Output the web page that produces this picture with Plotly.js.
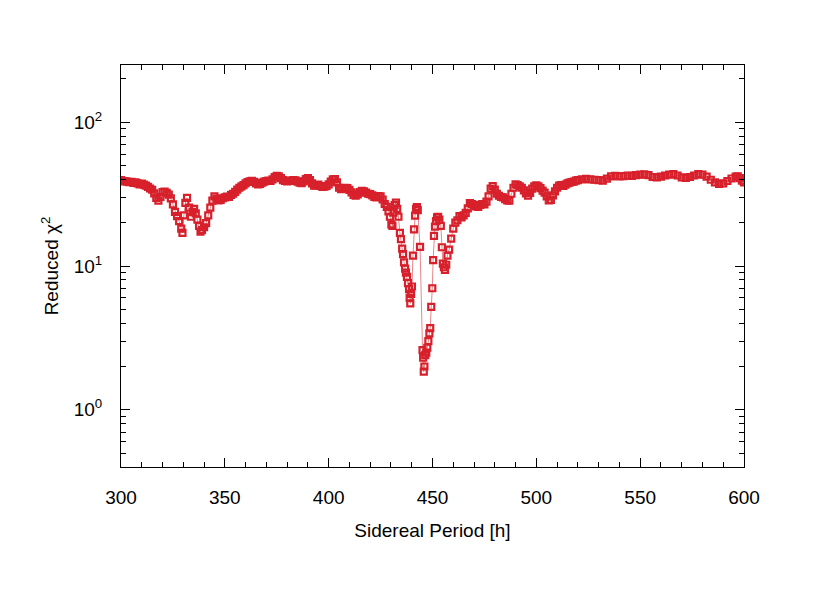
<!DOCTYPE html>
<html>
<head>
<meta charset="utf-8">
<script src="https://cdn.plot.ly/plotly-3.0.1.min.js"></script>
<style>
  body { margin: 0; background: #fff; }
  #myPlot { width: 830px; height: 589px; }
</style>
</head>
<body>
<div id="myPlot"></div>
<script>
/**
 * Data
 */
const period = [
  300, 301, 302, 303, 304, 305, 306, 307, 308, 309, 310, 311, 312, 313, 314, 315,
  316, 317, 318, 319, 320, 321, 322, 323, 324, 325, 326, 327, 328, 329, 329.6,
  330.3, 331, 331.8, 332.8, 333.7, 334.5, 335.2, 336, 336.8, 337.6, 338.3, 339,
  340, 341, 342, 343, 344, 345, 346, 347, 348, 349, 350, 351, 352, 353, 354, 355,
  356, 357, 358, 359, 360, 361, 362, 363, 364, 365, 366, 367, 368, 369, 370, 371,
  372, 373, 374, 375, 376, 377, 378, 379, 380, 381, 382, 383, 384, 385, 386, 387,
  388, 389, 390, 391, 392, 393, 394, 395, 396, 397, 398, 399, 400, 401, 402, 403,
  404, 405, 406, 407, 408, 409, 410, 411, 412, 413, 414, 415, 416, 417, 418, 419,
  420, 421, 422, 423, 424, 425, 426, 427, 428, 428.8, 429.5, 430.2, 430.7, 431.2,
  431.8, 432.4, 433, 433.6, 434.3, 434.8, 435.4, 435.8, 436.3, 436.8, 437.2, 437.7,
  438.2, 438.7, 439.0, 439.3, 439.7, 440.1, 440.6, 441.1, 441.6, 442.1, 442.5,
  442.9, 444.0, 445.2, 445.5, 445.8, 446.1, 446.5, 447.0, 447.5, 448.0, 448.5,
  448.9, 449.4, 449.9, 450.3, 450.7, 451.2, 451.7, 452.2, 452.7, 453.3, 454.0,
  454.5, 455.0, 455.5, 456.0, 456.6, 457.2, 458, 459, 460, 461, 462, 463, 464, 465,
  466, 467, 468, 469, 470, 471, 472, 473, 474, 475, 476, 477, 478, 479, 480, 481,
  482, 483, 484, 485, 486, 487, 488, 489, 490, 491, 492, 493, 494, 495, 496, 497,
  498, 499, 500, 501, 502, 503, 504, 505, 506, 507, 508, 509, 510, 511, 512, 513,
  514, 515, 516, 517, 518, 519, 520, 522, 524, 526, 528, 530, 532, 534, 536, 538,
  540, 542, 544, 546, 548, 550, 552, 554, 556, 558, 560, 562, 564, 566, 568, 570,
  572, 574, 576, 578, 580, 582, 584, 586, 588, 590, 592, 594, 596, 597, 598, 599, 600
];

const chi2 = [
  39.5, 39.0, 38.8, 38.6, 38.3, 38.5, 37.9, 38.2, 37.5, 37.0, 37.4, 36.8, 36.2, 35.5, 34.6, 33.9,
  32.0, 29.8, 28.5, 30.2, 32.6, 32.9, 32.3, 31.4, 29.5, 26.8, 23.8, 22.2, 20.5, 18.2, 17.0,
  22.5, 27.5, 29.8, 25.5, 22.0, 23.8, 25.0, 23.2, 21.0, 19.0, 17.3, 17.8,
  18.6, 19.9, 22.5, 25.5, 28.5, 30.5, 29.4, 28.6, 28.8, 29.6, 30.0, 30.4, 30.2, 31.2, 31.8, 32.8,
  34.0, 35.0, 35.8, 36.5, 37.6, 38.4, 38.8, 39.1, 38.5, 37.6, 37.0, 37.2, 38.0, 38.6, 39.0, 39.2,
  39.0, 40.0, 41.5, 42.4, 42.0, 40.8, 39.6, 39.1, 38.8, 39.0, 39.3, 39.6, 39.4, 38.6, 38.0, 37.7,
  38.8, 40.2, 40.8, 39.6, 37.5, 36.2, 36.4, 36.8, 36.0, 35.5, 35.6, 36.0, 37.0, 38.6, 40.0, 40.2,
  38.2, 35.0, 34.3, 34.6, 35.0, 34.8, 33.8, 32.5, 31.2, 30.8, 31.5, 32.6, 33.3, 33.0, 32.4, 31.8,
  31.6, 31.0, 30.2, 30.0, 30.6, 30.5, 29.0, 27.0, 25.8, 24.0, 22.0, 19.5, 19.0, 23.5,
  26.5, 27.6, 25.0, 22.0, 17.0, 15.4, 13.2, 12.1, 10.6, 9.6, 9.0, 8.4,
  7.6, 6.9, 6.0, 5.5, 6.4, 7.2, 11.8, 18.0, 22.4, 25.0, 25.7,
  24.5, 13.6, 2.6, 2.3, 1.84, 2.0, 2.4, 2.5, 2.7, 3.0, 3.4,
  3.7, 5.2, 7.0, 11.0, 16.2, 18.8, 20.5, 21.8, 22.0, 21.0, 19.0,
  13.5, 10.4, 9.8, 9.4, 10.2, 11.8, 13.0, 15.5, 18.2, 20.0, 20.8, 22.2, 21.8, 22.5,
  23.4, 25.2, 27.4, 27.0, 26.5, 26.0, 25.8, 26.6, 27.0, 26.8, 28.0, 30.5, 34.5, 36.0, 34.0, 31.8,
  30.8, 30.2, 30.0, 29.2, 28.6, 28.5, 31.8, 35.0, 37.0, 36.6, 35.8, 35.0, 33.6, 32.0, 30.8, 32.2,
  34.5, 35.8, 36.4, 35.8, 34.8, 33.4, 32.4, 30.5, 28.6, 28.8, 31.0, 33.0, 35.0, 36.2, 36.6, 36.0,
  36.8, 37.6, 38.0, 38.4, 38.6, 39.2, 39.6, 40.0, 40.3, 40.0, 39.8, 39.5, 39.2, 40.5, 42.0, 42.4,
  42.0, 42.2, 42.6, 42.4, 42.8, 43.2, 43.4, 42.8, 41.6, 41.3, 41.8, 42.6, 43.2, 43.6, 42.6, 41.4,
  41.0, 41.6, 42.6, 43.5, 43.2, 41.8, 39.8, 38.2, 37.2, 37.6, 39.0, 40.6, 41.8, 42.0, 40.8, 39.2, 38.1
];

const xTicks = [300, 350, 400, 450, 500, 550, 600];
const yTicks = [1, 10, 100];
const yTickText = ["10<sup>0</sup>", "10<sup>1</sup>", "10<sup>2</sup>"];
const yMinor = [0.4, 0.5, 0.6, 0.7, 0.8, 0.9, 2, 3, 4, 5, 6, 7, 8, 9,
  20, 30, 40, 50, 60, 70, 80, 90, 200];

const red = "#d7202b";

const data = [
  {
    x: period,
    y: chi2,
    type: "scatter",
    mode: "lines+markers",
    line: { color: "rgba(215,32,43,0.55)", width: 1 },
    marker: {
      symbol: "square-open",
      size: 6,
      color: red,
      line: { color: red, width: 2.2 }
    },
    hoverinfo: "x+y"
  }
];

const axisFont = { family: "Liberation Sans, Arial, sans-serif", size: 19, color: "#000" };

const layout = {
  width: 830,
  height: 589,
  margin: { l: 121, r: 86, t: 65, b: 122 },
  paper_bgcolor: "#fff",
  plot_bgcolor: "#fff",
  showlegend: false,
  font: axisFont,
  xaxis: {
    range: [300, 600],
    tickvals: xTicks,
    ticks: "inside",
    ticklen: 9,
    tickwidth: 1,
    tickcolor: "#000",
    showline: true,
    linecolor: "#000",
    linewidth: 1,
    mirror: "allticks",
    showgrid: false,
    zeroline: false,
    ticklabelstandoff: 13,
    tickfont: axisFont,
    minor: { dtick: 10, ticks: "inside", ticklen: 5, tickcolor: "#000", showgrid: false },
    title: { text: "Sidereal Period [h]", font: axisFont, standoff: 16 }
  },
  yaxis: {
    type: "log",
    range: [Math.log10(0.4), Math.log10(250)],
    tickvals: yTicks,
    ticktext: yTickText,
    ticks: "inside",
    ticklen: 9,
    tickwidth: 1,
    tickcolor: "#000",
    showline: true,
    linecolor: "#000",
    linewidth: 1,
    mirror: "allticks",
    showgrid: false,
    zeroline: false,
    ticklabelstandoff: 14,
    tickfont: axisFont,
    minor: { tickvals: yMinor, ticks: "inside", ticklen: 5, tickcolor: "#000", showgrid: false },
    title: { text: "Reduced χ<sup>2</sup>", font: axisFont, standoff: 10 }
  }
};

Plotly.newPlot("myPlot", data, layout, { staticPlot: true });
</script>
</body>
</html>
